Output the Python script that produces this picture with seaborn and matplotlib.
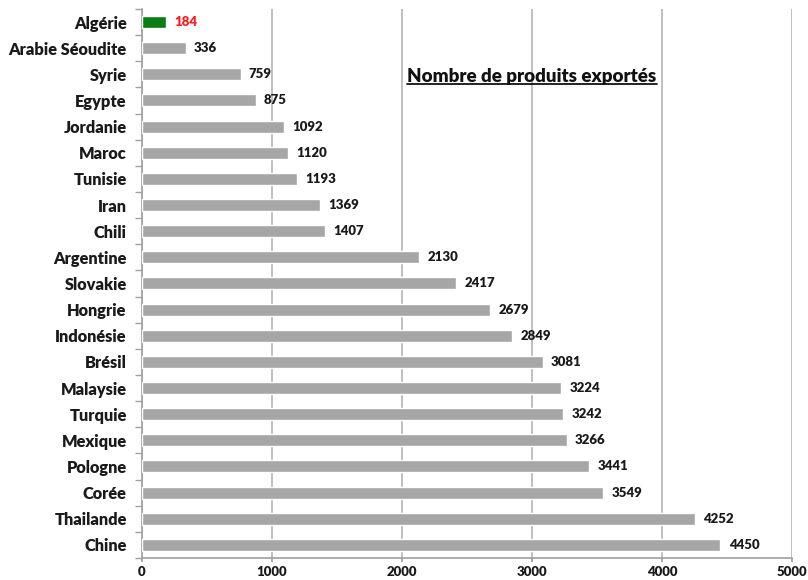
import matplotlib
matplotlib.use('Agg')
import matplotlib.pyplot as plt
import seaborn as sns
import numpy as np
from matplotlib.lines import Line2D

pays = ['Algérie', 'Arabie Séoudite', 'Syrie', 'Egypte', 'Jordanie', 'Maroc', 'Tunisie',
        'Iran', 'Chili', 'Argentine', 'Slovakie', 'Hongrie', 'Indonésie', 'Brésil',
        'Malaysie', 'Turquie', 'Mexique', 'Pologne', 'Corée', 'Thailande', 'Chine']
produits = [184, 336, 759, 875, 1092, 1120, 1193, 1369, 1407, 2130, 2417, 2679, 2849,
            3081, 3224, 3242, 3266, 3441, 3549, 4252, 4450]
titre = 'Nombre de produits exportés'

sns.set_theme(style='white')
plt.rcParams['font.family'] = ['Lato', 'DejaVu Sans']

fig = plt.figure(figsize=(8.08, 5.8), dpi=100)
ax = fig.add_axes([0.1757, 0.038, 0.8045, 0.9465])

couleurs = ['#0a7d16' if p == 'Algérie' else '#a6a6a6' for p in pays]
sns.barplot(x=produits, y=pays, hue=pays, palette=couleurs, legend=False,
            width=0.46, saturation=1, ax=ax, zorder=3)

# labels on bars
for c, p in zip(ax.containers, pays):
    col = '#ff1a1a' if p == 'Algérie' else '#1a1a1a'
    ax.bar_label(c, padding=6, fontsize=9.5, fontweight='heavy', color=col)

ax.set_xlim(0, 5000)
ax.set_ylim(len(pays) - 0.5, -0.5)
ax.set_xticks(np.arange(0, 5001, 1000))
ax.set_xlabel('')
ax.set_ylabel('')
ax.grid(axis='x', color='#b4b4b4', linewidth=1.2, zorder=0)
ax.set_axisbelow(True)

for s in ['top', 'right']:
    ax.spines[s].set_visible(False)
for s in ['left', 'bottom']:
    ax.spines[s].set_color('#a0a0a0')
    ax.spines[s].set_linewidth(1.2)

ax.tick_params(axis='y', which='major', length=0, pad=11, labelsize=11.8)
ax.set_yticks(np.arange(-0.5, len(pays), 1), minor=True)
ax.tick_params(axis='y', which='minor', length=5, color='#a0a0a0', direction='out', left=True)
ax.tick_params(axis='x', which='major', length=3, color='#a0a0a0', direction='out',
               bottom=True, labelsize=9.5, pad=2.5)
for t in ax.get_yticklabels() + ax.get_xticklabels():
    t.set_fontweight('heavy')
    t.set_color('#1a1a1a')

txt = ax.text(3000, 2.1, titre, ha='center', va='center', fontsize=13.5,
              fontweight='heavy', color='#111111', zorder=5)

# underline the title
fig.canvas.draw()
bb = txt.get_window_extent().transformed(fig.transFigure.inverted())
fig.add_artist(Line2D([bb.x0, bb.x1], [bb.y0 + 0.002, bb.y0 + 0.002],
                      color='#111111', linewidth=1.3))

fig.savefig('out.png', dpi=100)
